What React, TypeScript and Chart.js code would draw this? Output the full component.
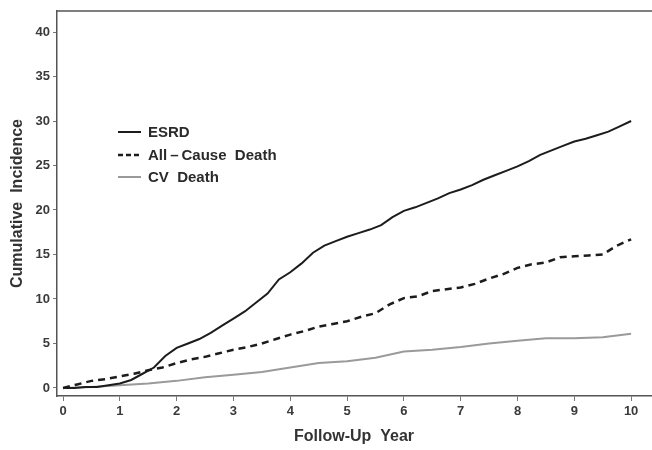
import React, { useEffect, useRef } from "react";
import { Chart, registerables } from "chart.js";

Chart.register(...registerables);

const esrdYears = [0, 0.2, 0.4, 0.6, 0.8, 1.0, 1.2, 1.4, 1.6, 1.8, 2.0, 2.2, 2.4, 2.6, 2.8, 3.0, 3.2, 3.4, 3.6, 3.8, 4.0, 4.2, 4.4, 4.6, 4.8, 5.0, 5.2, 5.4, 5.6, 5.8, 6.0, 6.2, 6.4, 6.6, 6.8, 7.0, 7.2, 7.4, 7.6, 7.8, 8.0, 8.2, 8.4, 8.6, 8.8, 9.0, 9.2, 9.4, 9.6, 9.8, 10.0];
const esrdValues = [0, 0, 0.1, 0.1, 0.3, 0.5, 0.9, 1.6, 2.3, 3.6, 4.5, 5.0, 5.5, 6.2, 7.0, 7.8, 8.6, 9.6, 10.6, 12.2, 13.0, 14.0, 15.2, 16.0, 16.5, 17.0, 17.4, 17.8, 18.3, 19.2, 19.9, 20.3, 20.8, 21.3, 21.9, 22.3, 22.8, 23.4, 23.9, 24.4, 24.9, 25.5, 26.2, 26.7, 27.2, 27.7, 28.0, 28.4, 28.8, 29.4, 30.0];

const deathYears = [0, 0.25, 0.5, 0.75, 1.0, 1.25, 1.5, 1.75, 2.0, 2.25, 2.5, 2.75, 3.0, 3.25, 3.5, 3.75, 4.0, 4.25, 4.5, 4.75, 5.0, 5.25, 5.5, 5.75, 6.0, 6.25, 6.5, 6.75, 7.0, 7.25, 7.5, 7.75, 8.0, 8.25, 8.5, 8.75, 9.0, 9.25, 9.5, 9.75, 10.0];
const deathValues = [0, 0.4, 0.8, 1.0, 1.3, 1.6, 2.0, 2.3, 2.8, 3.2, 3.5, 3.9, 4.3, 4.6, 5.0, 5.5, 6.0, 6.4, 6.9, 7.2, 7.5, 8.0, 8.4, 9.4, 10.1, 10.3, 10.9, 11.1, 11.3, 11.7, 12.3, 12.8, 13.5, 13.9, 14.1, 14.7, 14.8, 14.9, 15.0, 16.0, 16.7];

const cvYears = [0, 0.5, 1, 1.5, 2, 2.5, 3, 3.5, 4, 4.5, 5, 5.5, 6, 6.5, 7, 7.5, 8, 8.5, 9, 9.5, 10];
const cvValues = [0, 0.1, 0.3, 0.5, 0.8, 1.2, 1.5, 1.8, 2.3, 2.8, 3.0, 3.4, 4.1, 4.3, 4.6, 5.0, 5.3, 5.6, 5.6, 5.7, 6.1];

const seriesNames = ["ESRD", "All\u2009\u2013\u2009Cause  Death", "CV  Death"];
const xTicks = [0, 1, 2, 3, 4, 5, 6, 7, 8, 9, 10];
const yTicks = [0, 5, 10, 15, 20, 25, 30, 35, 40];
const xTitle = "Follow-Up  Year";
const yTitle = "Cumulative  Incidence";

const FONT = '"Liberation Sans", Arial, Helvetica, sans-serif';

const pts = (xs: number[], ys: number[]) => xs.map((x, i) => ({ x, y: ys[i] }));

const framePlugin = {
  id: "frameAndLegend",
  afterDraw(chart: any) {
    const { ctx, chartArea } = chart;
    ctx.save();
    ctx.strokeStyle = "#555";
    ctx.lineWidth = 1.5;
    ctx.beginPath();
    ctx.moveTo(chartArea.left, chartArea.top);
    ctx.lineTo(chartArea.right + 1, chartArea.top);
    ctx.stroke();
    const items = [
      { color: "#1c1c1c", width: 2, dash: [] as number[] },
      { color: "#1c1c1c", width: 2.5, dash: [5, 3] },
      { color: "#9a9a9a", width: 2, dash: [] as number[] },
    ];
    const x0 = 118, x1 = 141, ys = [132, 155, 177];
    ctx.font = `bold 15px ${FONT}`;
    ctx.textBaseline = "middle";
    ctx.textAlign = "left";
    items.forEach((it, i) => {
      ctx.strokeStyle = it.color;
      ctx.lineWidth = it.width;
      ctx.setLineDash(it.dash);
      ctx.beginPath();
      ctx.moveTo(x0, ys[i]);
      ctx.lineTo(x1, ys[i]);
      ctx.stroke();
      ctx.setLineDash([]);
      ctx.fillStyle = "#2a2a2a";
      ctx.fillText(seriesNames[i], 148, ys[i] + 1);
    });
    ctx.restore();
  },
};

export default function App() {
  const ref = useRef<HTMLCanvasElement>(null);
  useEffect(() => {
    if (!ref.current) return;
    const chart = new Chart(ref.current, {
      type: "line",
      data: {
        datasets: [
          {
            label: seriesNames[0],
            data: pts(esrdYears, esrdValues),
            borderColor: "#1c1c1c",
            borderWidth: 2,
            tension: 0,
            pointRadius: 0,
            fill: false,
          },
          {
            label: seriesNames[1],
            data: pts(deathYears, deathValues),
            borderColor: "#1c1c1c",
            borderWidth: 2.5,
            borderDash: [7, 5],
            tension: 0,
            pointRadius: 0,
            fill: false,
          },
          {
            label: seriesNames[2],
            data: pts(cvYears, cvValues),
            borderColor: "#9a9a9a",
            borderWidth: 2,
            tension: 0,
            pointRadius: 0,
            fill: false,
          },
        ],
      },
      options: {
        animation: false,
        responsive: false,
        layout: { padding: { top: 11, right: 1, left: 0, bottom: 0 } },
        plugins: { legend: { display: false }, tooltip: { enabled: false } },
        scales: {
          x: {
            type: "linear",
            min: -0.106,
            max: 10.35,
            afterFit: (s: any) => { s.height = 54; },
            afterBuildTicks: (s: any) => { s.ticks = xTicks.map((v) => ({ value: v })); },
            border: { display: true, color: "#555", width: 1.5 },
            grid: { drawOnChartArea: false, drawTicks: true, tickLength: 5, color: "#777" },
            ticks: { color: "#3a3a3a", font: { family: FONT, size: 13, weight: "bold" }, padding: 3, maxRotation: 0, autoSkip: false },
            title: { display: true, text: xTitle, color: "#333", font: { family: FONT, size: 16, weight: "bold" }, padding: { top: 0, bottom: 4 } },
          },
          y: {
            type: "linear",
            min: -0.9,
            max: 42.36,
            afterFit: (s: any) => { s.width = 57; },
            afterBuildTicks: (s: any) => { s.ticks = yTicks.map((v) => ({ value: v })); },
            border: { display: true, color: "#555", width: 1.5 },
            grid: { drawOnChartArea: false, drawTicks: true, tickLength: 4, color: "#777" },
            ticks: { color: "#3a3a3a", font: { family: FONT, size: 13, weight: "bold" }, padding: 3, autoSkip: false },
            title: { display: true, text: yTitle, color: "#333", font: { family: FONT, size: 16, weight: "bold" }, padding: { top: 8, bottom: 0 } },
          },
        },
      },
      plugins: [framePlugin],
    } as any);
    return () => chart.destroy();
  }, []);
  return (
    <div style={{ position: "fixed", left: 0, top: 0, width: 652, height: 450, background: "#fff" }}>
      <canvas ref={ref} width={652} height={450} />
    </div>
  );
}
